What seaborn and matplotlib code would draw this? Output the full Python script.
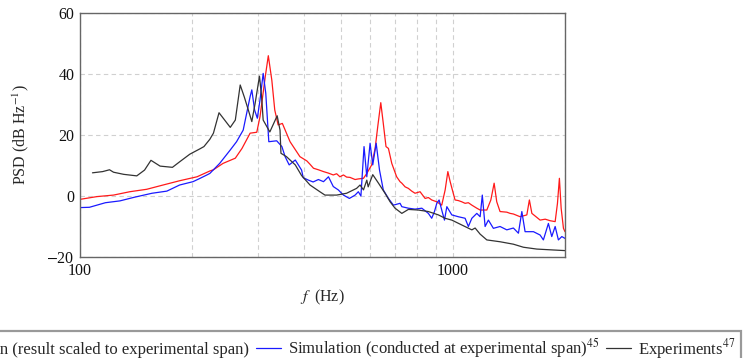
import numpy as np
import pandas as pd
import matplotlib
matplotlib.use("Agg")
import matplotlib.pyplot as plt
import seaborn as sns

# ---------------- data ----------------
exp_f = [108, 115, 120, 123, 131, 142, 149, 155, 164, 177, 185, 197, 210, 215, 223, 228,
         236, 253, 261, 269, 276, 283, 289, 295, 303, 307, 310, 323, 338, 344, 346, 358,
         378, 393, 414, 440, 454, 488, 519, 552, 564, 576, 588, 593, 610, 632, 658, 679,
         700, 730, 760, 808, 860, 915, 953, 994, 1057, 1125, 1148, 1184, 1234, 1339, 1454,
         1547, 1680, 1862, 2000]
exp_psd = [7.6, 8.0, 8.6, 7.8, 7.1, 6.6, 8.5, 11.7, 9.8, 9.4, 11.2, 13.7, 15.5, 16.2, 18.6, 20.6,
           27.3, 22.5, 24.9, 36.4, 32.4, 28.1, 24.4, 30.4, 39.3, 32.6, 24.9, 21.0, 26.3, 21.6, 14.0, 12.9,
           10.2, 6.7, 3.6, 1.4, 0.3, 0.3, 0.9, 2.5, 3.6, 2.0, 5.2, 3.0, 7.0, 4.2, 0.9, -1.9,
           -4.0, -5.7, -4.4, -4.6, -5.1, -6.2, -7.3, -7.9, -9.5, -11.1, -10.5, -12.5, -14.4, -15.0, -15.8,
           -16.8, -17.4, -17.7, -17.9]

scaled_f = [100, 111, 123, 136, 151, 167, 185, 206, 223, 228, 242, 261, 272, 286, 298, 304,
            314, 320, 327, 333, 340, 349, 366, 389, 406, 414, 423, 436, 450, 464, 478, 488, 498, 509,
            519, 530, 547, 558, 576, 588, 606, 619, 629, 641, 651, 662, 672, 686, 707, 722,
            730, 745, 760, 776, 792, 817, 843, 860, 878, 906, 934, 954, 970, 984, 1014, 1035, 1057,
            1079, 1101, 1125, 1160, 1184, 1234, 1265, 1291, 1312, 1339, 1396, 1425, 1454, 1516, 1580,
            1605, 1630, 1680, 1715, 1770, 1824, 1882, 1909, 1932, 1953, 1981, 2000]
scaled_psd = [-1.1, -0.2, 0.3, 1.4, 2.2, 3.6, 5.0, 6.3, 8.2, 8.6, 10.7, 12.4, 15.6, 20.6, 20.9, 26.0,
              39.1, 46.0, 38.0, 28.2, 23.3, 23.8, 17.8, 12.9, 11.5, 10.4, 9.1, 8.6, 8.0, 7.5, 6.9, 7.3, 6.3, 6.9,
              6.2, 6.1, 5.4, 5.6, 5.8, 7.4, 10.2, 15.6, 22.7, 30.6, 23.8, 16.2, 15.6, 10.7, 6.3, 4.7,
              4.2, 3.0, 2.5, 1.6, 0.9, 1.4, -0.8, -0.5, -1.3, -1.9, -3.0, 2.0, 8.0, 4.7, -1.3, -1.5, -1.9,
              -2.4, -2.2, -3.0, -4.0, -4.6, -4.6, -1.3, 4.2, -1.9, -5.1, -5.3, -5.7, -5.9, -6.8, -6.2,
              -1.3, -5.7, -7.0, -7.9, -7.6, -8.1, -8.4, -2.4, 5.8, -4.0, -10.6, -11.7]

span_f = [100, 106, 117, 128, 140, 156, 171, 185, 201, 210, 219, 223, 237, 253, 263, 274,
          286, 289, 294, 299, 304, 310, 315, 321, 337, 348, 355, 364, 378, 393, 397, 410,
          422, 436, 450, 464, 478, 493, 509, 528, 547, 558, 567, 578, 588, 600, 610, 623,
          636, 651, 672, 693, 722, 730, 760, 792, 826, 860, 878, 893, 906, 919, 934, 950,
          964, 994, 1035, 1079, 1101, 1125, 1160, 1184, 1200, 1221, 1246, 1285, 1339, 1396,
          1454, 1500, 1532, 1563, 1646, 1715, 1750, 1805, 1843, 1882, 1920, 1961, 2000]
span_psd = [-3.8, -3.7, -2.2, -1.6, -0.4, 0.9, 1.6, 3.6, 4.7, 5.8, 6.9, 7.4, 10.7, 15.1, 17.8, 21.6,
            32.6, 34.8, 28.2, 25.5, 31.5, 40.2, 33.7, 17.8, 18.1, 16.2, 12.9, 10.2, 11.8, 8.5, 6.0, 5.2,
            4.6, 5.4, 4.7, 6.3, 3.1, 2.0, 0.3, -0.8, 0.3, 1.4, 0.0, 16.2, 6.3, 17.3, 10.2, 17.3,
            8.5, 2.0, -0.8, -3.0, -2.4, -3.5, -4.0, -4.3, -4.0, -5.7, -7.3, -5.1, -2.4, -1.3, -4.6, -7.9,
            -3.5, -6.2, -6.8, -7.3, -10.0, -7.3, -5.7, -6.8, 0.3, -10.0, -7.9, -10.6, -10.0, -11.1,
            -10.5, -12.2, -5.1, -11.7, -11.7, -12.8, -14.4, -9.0, -13.3, -10.0, -14.4, -13.3, -13.9]

labels = ["Simulation (result scaled to experimental span)",
          "Simulation (conducted at experimental span)$^{45}$",
          "Experiments$^{47}$"]
colors = ["#ff1a1a", "#1a1aff", "#333333"]

df = pd.concat([
    pd.DataFrame({"f": scaled_f, "psd": scaled_psd, "series": labels[0]}),
    pd.DataFrame({"f": span_f, "psd": span_psd, "series": labels[1]}),
    pd.DataFrame({"f": exp_f, "psd": exp_psd, "series": labels[2]}),
], ignore_index=True)

# ---------------- style ----------------
sns.set_theme(style="white")
plt.rcParams["font.family"] = ["Liberation Serif", "DejaVu Serif"]
plt.rcParams["mathtext.fontset"] = "stix"

fig = plt.figure(figsize=(7.46, 3.58), dpi=100)
ax = fig.add_axes([80 / 746, 1 - 257 / 358, 485 / 746, 244 / 358])

sns.lineplot(data=df, x="f", y="psd", hue="series", hue_order=labels,
             palette=colors, sort=False, estimator=None, linewidth=0.9,
             legend=False, ax=ax)

ax.set_xscale("log")
ax.set_xlim(100, 2000)
ax.set_ylim(-20, 60)
ax.set_xticks([100, 1000])
ax.set_xticklabels(["100", "1000"])
ax.set_xticks([200, 300, 400, 500, 600, 700, 800, 900, 2000], minor=True)
ax.xaxis.set_minor_formatter(matplotlib.ticker.NullFormatter())
ax.set_yticks([-20, 0, 20, 40, 60])
ax.set_yticklabels(["$-$20", "0", "20", "40", "60"])
ax.grid(True, which="both", axis="x", linestyle=(0, (4, 3)), color="#d0d0d0", linewidth=0.8)
ax.grid(True, which="major", axis="y", linestyle=(0, (4, 3)), color="#d0d0d0", linewidth=0.8)
ax.tick_params(axis="both", which="both", direction="in", length=0, labelsize=11.5,
               colors="#111111", pad=4)
for s in ax.spines.values():
    s.set_color("#666666")
    s.set_linewidth(1.0)

ax.set_xlabel("$f\\;$ (Hz)", fontsize=11.5, labelpad=7)
ax.set_ylabel("PSD (dB Hz$^{-1}$)", fontsize=11.5, labelpad=11)

handles = [matplotlib.lines.Line2D([], [], color=c, linewidth=0.9) for c in colors]
leg = fig.legend(handles, labels, loc="upper center", bbox_to_anchor=(0.428, 0.10),
                 ncol=3, frameon=True, fancybox=False, fontsize=12,
                 handlelength=1.5, handletextpad=0.4, columnspacing=0.4,
                 borderpad=0.35)
leg.get_frame().set_edgecolor("#808080")
leg.get_frame().set_linewidth(1.6)

fig.savefig("out.png", dpi=100)
